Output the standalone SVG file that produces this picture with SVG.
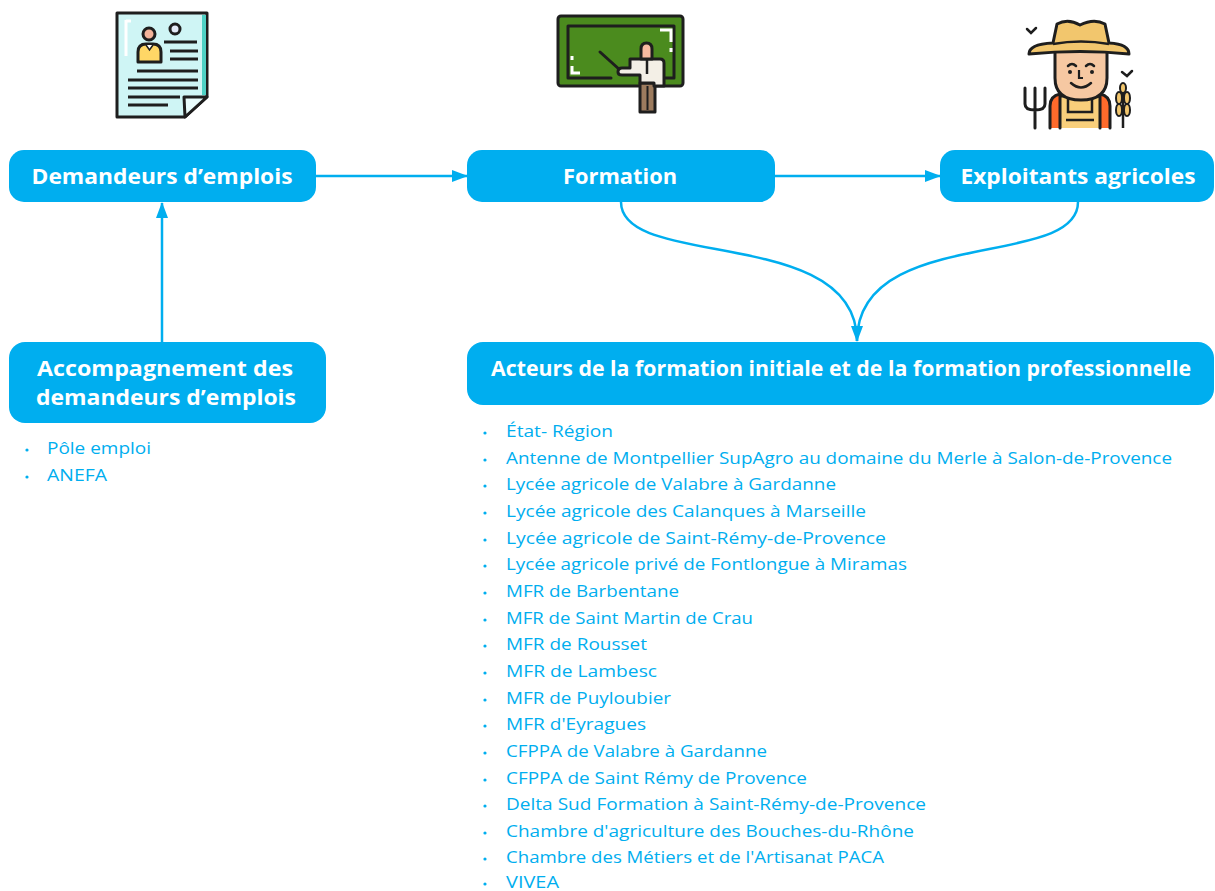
<svg xmlns="http://www.w3.org/2000/svg" width="1215" height="891" viewBox="0 0 1215 891">
  <style>
    .box { fill: #00aeef; }
    .title { font-family: "Open Sans", "Liberation Sans", sans-serif; font-weight: 700; font-size: 21px; fill: #ffffff; text-anchor: middle; }
    .item { font-family: "Open Sans", "Liberation Sans", sans-serif; font-size: 17px; fill: #00aeef; }
    .bullet { fill: #00aeef; }
    .conn { fill: none; stroke: #00aeef; stroke-width: 2.5; }
    .ink { stroke: #1e1e1e; stroke-width: 3; stroke-linejoin: round; stroke-linecap: round; }
  </style>
  <defs>
    <marker id="arrow" markerUnits="userSpaceOnUse" markerWidth="16" markerHeight="16" viewBox="0 0 16 16" refX="15" refY="8" orient="auto">
      <path d="M0,2 L16,8 L0,14 Z" fill="#00aeef"/>
    </marker>
  </defs>
  <rect width="1215" height="891" fill="#ffffff"/>

  <!-- CV / resume icon -->
  <g id="icon-cv">
    <path class="ink" d="M117,13 H207 V97 L185,117 H117 Z" fill="#cff5f5"/>
    <rect x="202" y="15" width="4" height="80" fill="#4fd1c5"/>
    <path class="ink" d="M184,97 H207 L185,117 Z" fill="#e8fbfb"/>
    <path d="M126,20 V56 M126,21 H131" stroke="#ffffff" stroke-width="3" fill="none"/>
    <circle class="ink" cx="149" cy="34" r="6" fill="#f4b39a" stroke-width="2.5"/>
    <path class="ink" d="M138,62 V52 Q138,44 146,44 H153 Q161,44 161,52 V62 Z" fill="#ffd766" stroke-width="2.5"/>
    <path d="M146,45 L149.5,50 L153,45" fill="#ffffff" stroke="#1e1e1e" stroke-width="1.5"/>
    <circle class="ink" cx="175" cy="29" r="5" fill="#e3e9f6" stroke-width="2.5"/>
    <g stroke="#1e1e1e" stroke-width="3">
      <line x1="164" y1="42" x2="197" y2="42"/>
      <line x1="170" y1="51" x2="198" y2="51"/>
      <line x1="170" y1="59" x2="198" y2="59"/>
      <line x1="137" y1="71" x2="198" y2="71"/>
      <line x1="128" y1="80" x2="198" y2="80"/>
      <line x1="128" y1="88" x2="198" y2="88"/>
      <line x1="128" y1="97" x2="180" y2="97"/>
      <line x1="128" y1="105" x2="168" y2="105"/>
    </g>
  </g>

  <!-- Teacher at chalkboard icon -->
  <g id="icon-training">
    <rect class="ink" x="558" y="16" width="125" height="70" rx="3" fill="#4b8b1e"/>
    <path class="ink" d="M611,78 H568 V26 H674 V78 H665" fill="none"/>
    <path d="M660,30 H671 V42 M671,48 V52" stroke="#ffffff" stroke-width="3" fill="none"/>
    <path d="M572,56 V60 M572,66 V73 H580" stroke="#ffffff" stroke-width="3" fill="none"/>
    <line class="ink" x1="600" y1="52" x2="620" y2="70"/>
    <path class="ink" d="M640,83 V112 H655 V83 Z" fill="#9c7b5e"/>
    <line x1="647.5" y1="86" x2="647.5" y2="110" stroke="#1e1e1e" stroke-width="2"/>
    <path class="ink" d="M630,59 H660 Q664,59 664,63 V86 H654 V83 H640 V75 H622 Q618,75 618,72 Q618,68 622,68 H630 Z" fill="#f3efe6"/>
    <path d="M647,60 V74" stroke="#1e1e1e" stroke-width="2.5"/>
    <path class="ink" d="M641,59 V49 Q641,43 646.5,43 Q652,43 652,49 V59 Z" fill="#f7b9a0" stroke-width="2.5"/>
  </g>

  <!-- Farmer icon -->
  <g id="icon-farmer">
    <path d="M1027,29 L1031,33 L1036,28" stroke="#1e1e1e" stroke-width="2.5" fill="none" stroke-linecap="round"/>
    <path d="M1122,72 L1127,76 L1132,71" stroke="#1e1e1e" stroke-width="2.5" fill="none" stroke-linecap="round"/>
    <!-- pitchfork -->
    <path d="M1025,88 V104 Q1025,110 1035,110 Q1045,110 1045,104 V88 M1035,88 V128" stroke="#1e1e1e" stroke-width="3" fill="none" stroke-linecap="round"/>
    <!-- body -->
    <path class="ink" d="M1050,128 V106 Q1050,96 1060,94 H1100 Q1110,96 1110,106 V128" fill="#ff6a2b"/>
    <path class="ink" d="M1060,128 V96 H1100 V128" fill="#f9cf7b" stroke-width="2.5"/>
    <path d="M1068,96 V112 H1092 V96 M1066,120 H1094" stroke="#1e1e1e" stroke-width="2.5" fill="none"/>
    <!-- face -->
    <path class="ink" d="M1055,48 V78 Q1055,100 1081,100 Q1107,100 1107,78 V48 Z" fill="#f6c8a2"/>
    <path d="M1068,66 Q1072,62 1076,66 M1086,66 Q1090,62 1094,66" stroke="#1e1e1e" stroke-width="2.5" fill="none" stroke-linecap="round"/>
    <circle cx="1070" cy="72" r="2" fill="#1e1e1e"/>
    <circle cx="1092" cy="72" r="2" fill="#1e1e1e"/>
    <path d="M1079,70 V78 H1083" stroke="#1e1e1e" stroke-width="2.2" fill="none"/>
    <path d="M1071,83 Q1081,92 1091,83" stroke="#1e1e1e" stroke-width="2.5" fill="none" stroke-linecap="round"/>
    <!-- hat -->
    <path class="ink" d="M1029,54 Q1029,44 1053,43 L1057,24 Q1068,18 1080,25 Q1094,18 1105,24 L1109,43 Q1129,44 1129,54 Q1081,49 1029,54 Z" fill="#f2c66d"/>
    <path d="M1053,44 Q1081,39 1109,44" stroke="#1e1e1e" stroke-width="2.5" fill="none"/>
    <!-- wheat -->
    <path d="M1123,128 V90" stroke="#1e1e1e" stroke-width="2.5"/>
    <g fill="#f2c66d" stroke="#1e1e1e" stroke-width="2">
      <ellipse cx="1119" cy="98" rx="3" ry="6"/>
      <ellipse cx="1127" cy="98" rx="3" ry="6"/>
      <ellipse cx="1119" cy="110" rx="3" ry="6"/>
      <ellipse cx="1127" cy="110" rx="3" ry="6"/>
      <ellipse cx="1123" cy="88" rx="3" ry="5"/>
    </g>
  </g>

  <!-- Connectors -->
  <g id="connectors">
    <line class="conn" x1="316" y1="176" x2="467" y2="176" marker-end="url(#arrow)"/>
    <line class="conn" x1="775" y1="176" x2="940" y2="176" marker-end="url(#arrow)"/>
    <line class="conn" x1="162" y1="342" x2="162" y2="203" marker-end="url(#arrow)"/>
    <path class="conn" d="M621,202 C621,270 857,225 857,341" marker-end="url(#arrow)"/>
    <path class="conn" d="M1078,202 C1078,270 857,225 857,341"/>
  </g>

  <g id="node-demandeurs">
    <rect class="box" x="9" y="150" width="307" height="52" rx="15"/>
    <text class="title" x="162" y="184" textLength="261" lengthAdjust="spacingAndGlyphs">Demandeurs d’emplois</text>
  </g>

  <g id="node-formation">
    <rect class="box" x="467" y="150" width="308" height="52" rx="15"/>
    <text class="title" x="620" y="184" textLength="114" lengthAdjust="spacingAndGlyphs">Formation</text>
  </g>

  <g id="node-exploitants">
    <rect class="box" x="940" y="150" width="274" height="52" rx="15"/>
    <text class="title" x="1078" y="184" textLength="235" lengthAdjust="spacingAndGlyphs">Exploitants agricoles</text>
  </g>

  <g id="node-accompagnement">
    <rect class="box" x="9" y="342" width="317" height="81" rx="16"/>
    <text class="title" x="165" y="376" textLength="256" lengthAdjust="spacingAndGlyphs">Accompagnement des</text>
    <text class="title" x="166" y="405" textLength="260" lengthAdjust="spacingAndGlyphs">demandeurs d’emplois</text>
    <g class="item">
      <circle class="bullet" cx="27" cy="450" r="1.6"/>
      <text x="47" y="454" textLength="104" lengthAdjust="spacingAndGlyphs">Pôle emploi</text>
      <circle class="bullet" cx="27" cy="477" r="1.6"/>
      <text x="47" y="481" textLength="60" lengthAdjust="spacingAndGlyphs">ANEFA</text>
    </g>
  </g>

  <g id="node-acteurs">
    <rect class="box" x="467" y="342" width="747" height="63" rx="16"/>
    <text class="title" x="841" y="376" textLength="700" lengthAdjust="spacingAndGlyphs">Acteurs de la formation initiale et de la formation professionnelle</text>
    <g class="item">
      <circle class="bullet" cx="485" cy="433" r="1.6"/>
      <text x="506" y="437" textLength="107" lengthAdjust="spacingAndGlyphs">État- Région</text>
      <circle class="bullet" cx="485" cy="460" r="1.6"/>
      <text x="506" y="464" textLength="666" lengthAdjust="spacingAndGlyphs">Antenne de Montpellier SupAgro au domaine du Merle à Salon-de-Provence</text>
      <circle class="bullet" cx="485" cy="486" r="1.6"/>
      <text x="506" y="490" textLength="330" lengthAdjust="spacingAndGlyphs">Lycée agricole de Valabre à Gardanne</text>
      <circle class="bullet" cx="485" cy="513" r="1.6"/>
      <text x="506" y="517" textLength="360" lengthAdjust="spacingAndGlyphs">Lycée agricole des Calanques à Marseille</text>
      <circle class="bullet" cx="485" cy="540" r="1.6"/>
      <text x="506" y="544" textLength="380" lengthAdjust="spacingAndGlyphs">Lycée agricole de Saint-Rémy-de-Provence</text>
      <circle class="bullet" cx="485" cy="566" r="1.6"/>
      <text x="506" y="570" textLength="401" lengthAdjust="spacingAndGlyphs">Lycée agricole privé de Fontlongue à Miramas</text>
      <circle class="bullet" cx="485" cy="593" r="1.6"/>
      <text x="506" y="597" textLength="173" lengthAdjust="spacingAndGlyphs">MFR de Barbentane</text>
      <circle class="bullet" cx="485" cy="620" r="1.6"/>
      <text x="506" y="624" textLength="247" lengthAdjust="spacingAndGlyphs">MFR de Saint Martin de Crau</text>
      <circle class="bullet" cx="485" cy="646" r="1.6"/>
      <text x="506" y="650" textLength="141" lengthAdjust="spacingAndGlyphs">MFR de Rousset</text>
      <circle class="bullet" cx="485" cy="673" r="1.6"/>
      <text x="506" y="677" textLength="151" lengthAdjust="spacingAndGlyphs">MFR de Lambesc</text>
      <circle class="bullet" cx="485" cy="700" r="1.6"/>
      <text x="506" y="704" textLength="165" lengthAdjust="spacingAndGlyphs">MFR de Puyloubier</text>
      <circle class="bullet" cx="485" cy="726" r="1.6"/>
      <text x="506" y="730" textLength="140" lengthAdjust="spacingAndGlyphs">MFR d'Eyragues</text>
      <circle class="bullet" cx="485" cy="753" r="1.6"/>
      <text x="506" y="757" textLength="261" lengthAdjust="spacingAndGlyphs">CFPPA de Valabre à Gardanne</text>
      <circle class="bullet" cx="485" cy="780" r="1.6"/>
      <text x="506" y="784" textLength="301" lengthAdjust="spacingAndGlyphs">CFPPA de Saint Rémy de Provence</text>
      <circle class="bullet" cx="485" cy="806" r="1.6"/>
      <text x="506" y="810" textLength="420" lengthAdjust="spacingAndGlyphs">Delta Sud Formation à Saint-Rémy-de-Provence</text>
      <circle class="bullet" cx="485" cy="833" r="1.6"/>
      <text x="506" y="837" textLength="408" lengthAdjust="spacingAndGlyphs">Chambre d'agriculture des Bouches-du-Rhône</text>
      <circle class="bullet" cx="485" cy="859" r="1.6"/>
      <text x="506" y="863" textLength="378" lengthAdjust="spacingAndGlyphs">Chambre des Métiers et de l'Artisanat PACA</text>
      <circle class="bullet" cx="485" cy="884" r="1.6"/>
      <text x="506" y="888" textLength="53" lengthAdjust="spacingAndGlyphs">VIVEA</text>
    </g>
  </g>
</svg>
